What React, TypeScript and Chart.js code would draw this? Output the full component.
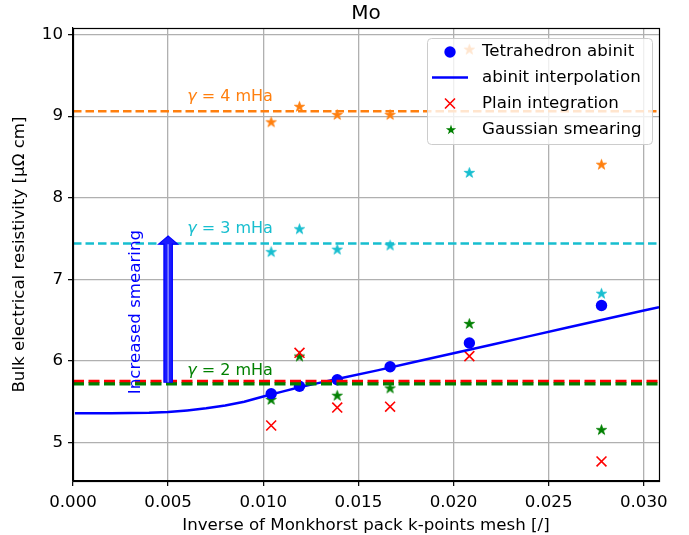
import React, { useEffect, useRef } from 'react';
import { Chart, registerables } from 'chart.js';
Chart.register(...registerables);

const FONT = 'DejaVu Sans';
const FS = 16.67;

// k-point meshes 96, 84, 72, 60, 48, 36 -> inverse
const KX = [1 / 96, 1 / 84, 1 / 72, 1 / 60, 1 / 48, 1 / 36];
const TETRA = [5.6, 5.69, 5.77, 5.93, 6.22, 6.68];
const PLAIN = [5.21, 6.1, 5.43, 5.44, 6.06, 4.77];
const GAUSS_2 = [5.53, 6.06, 5.58, 5.67, 6.46, 5.16];
const GAUSS_3 = [7.34, 7.62, 7.37, 7.42, 8.31, 6.83];
const GAUSS_4 = [8.93, 9.12, 9.02, 9.02, 9.82, 8.41];

const INTERP_X = [0.0001, 0.002, 0.004, 0.005, 0.006, 0.007, 0.008, 0.009, 0.01, 0.011, 0.012, 0.013, 0.014, 0.016, 0.018, 0.02, 0.022, 0.024, 0.026, 0.028, 0.03, 0.0308];
const INTERP_Y = [5.36, 5.36, 5.365, 5.375, 5.395, 5.42, 5.455, 5.5, 5.565, 5.625, 5.685, 5.735, 5.785, 5.885, 5.99, 6.095, 6.2, 6.305, 6.41, 6.515, 6.62, 6.66];

const REF_PLAIN = 5.75;
const REF_G2 = 5.72;
const REF_G3 = 7.44;
const REF_G4 = 9.06;

const X_MIN = 0;
const X_MAX = 0.0308;
const Y_MIN = 4.53;
const Y_MAX = 10.08;
const X_TICKS = [0, 0.005, 0.01, 0.015, 0.02, 0.025, 0.03];
const Y_TICKS = [5, 6, 7, 8, 9, 10];

const GAMMA_LABELS = ['4', '3', '2'];
const GAMMA_LABEL_Y = [9.24, 7.62, 5.88];
const GAMMA_LABEL_X = 0.006;
const ARROW_X = 0.005;
const ARROW_FROM = 5.74;
const ARROW_TO = 7.53;
const ARROW_TEXT = 'Increased smearing';
const ARROW_TEXT_X = 0.0033;
const ARROW_TEXT_Y = 6.6;

const BLUE = '#0000ff';
const RED = '#ff0000';
const GREEN = '#008000';
const ORANGE = '#ff7f0e';
const CYAN = '#17becf';

function starPath(g: CanvasRenderingContext2D, cx: number, cy: number, R: number) {
  g.beginPath();
  for (let i = 0; i < 10; i++) {
    const r = i % 2 === 0 ? R : R * 0.382;
    const a = -Math.PI / 2 + (i * Math.PI) / 5;
    g.lineTo(cx + r * Math.cos(a), cy + r * Math.sin(a));
  }
  g.closePath();
}

function makeStar(color: string, R: number) {
  const size = Math.ceil(R * 2 + 4);
  const c = document.createElement('canvas');
  c.width = size;
  c.height = size;
  const g = c.getContext('2d')!;
  starPath(g, size / 2, size / 2 + 0.5, R);
  g.fillStyle = color;
  g.fill();
  g.strokeStyle = color;
  g.lineWidth = 0.8;
  g.stroke();
  return c;
}

const pts = (xs: number[], ys: number[]) => xs.map((x, i) => ({ x, y: ys[i] }));
const hline = (v: number) => [{ x: X_MIN, y: v }, { x: X_MAX, y: v }];

export default function App() {
  const ref = useRef<HTMLCanvasElement>(null);
  useEffect(() => {
    const canvas = ref.current!;
    const starG = makeStar(GREEN, 5.4);
    const starC = makeStar(CYAN, 5.4);
    const starO = makeStar(ORANGE, 5.4);

    const overlay = {
      id: 'overlay',
      afterDatasetsDraw(chart: any) {
        const { ctx, chartArea: ca } = chart;
        const xs = chart.scales.x;
        const ys = chart.scales.y;
        ctx.save();
        // gamma labels
        const colors = [ORANGE, CYAN, GREEN];
        GAMMA_LABELS.forEach((g, i) => {
          const px = xs.getPixelForValue(GAMMA_LABEL_X);
          const py = ys.getPixelForValue(GAMMA_LABEL_Y[i]);
          ctx.fillStyle = colors[i];
          ctx.textBaseline = 'middle';
          ctx.textAlign = 'left';
          ctx.font = `italic 16px ${FONT}`;
          ctx.fillText('γ', px, py);
          const w = ctx.measureText('γ').width;
          ctx.font = `16px ${FONT}`;
          ctx.fillText(` = ${g} mHa`, px + w, py);
        });
        // arrow
        const ax = xs.getPixelForValue(ARROW_X);
        const ay0 = ys.getPixelForValue(ARROW_FROM);
        const ay1 = ys.getPixelForValue(ARROW_TO);
        const headL = 8;
        const headW = 9.5;
        const shaftW = 4.2;
        ctx.beginPath();
        ctx.moveTo(ax - shaftW, ay0);
        ctx.lineTo(ax - shaftW, ay1 + headL);
        ctx.lineTo(ax - headW, ay1 + headL);
        ctx.lineTo(ax, ay1);
        ctx.lineTo(ax + headW, ay1 + headL);
        ctx.lineTo(ax + shaftW, ay1 + headL);
        ctx.lineTo(ax + shaftW, ay0);
        ctx.closePath();
        ctx.fillStyle = '#1a1aff';
        ctx.fill();
        ctx.strokeStyle = BLUE;
        ctx.lineWidth = 1.2;
        ctx.stroke();
        ctx.beginPath();
        ctx.moveTo(ax, ay0);
        ctx.lineTo(ax, ay1 + headL);
        ctx.strokeStyle = 'rgba(170,170,255,0.9)';
        ctx.lineWidth = 1.3;
        ctx.stroke();
        // rotated text
        ctx.save();
        ctx.translate(xs.getPixelForValue(ARROW_TEXT_X), ys.getPixelForValue(ARROW_TEXT_Y));
        ctx.rotate(-Math.PI / 2);
        ctx.font = `${FS}px ${FONT}`;
        ctx.fillStyle = BLUE;
        ctx.textAlign = 'center';
        ctx.textBaseline = 'middle';
        ctx.fillText(ARROW_TEXT, 0, 0);
        ctx.restore();
        // frame
        ctx.strokeStyle = '#000';
        ctx.lineWidth = 1.2;
        ctx.strokeRect(Math.round(ca.left) + 0.5, Math.round(ca.top) + 0.5, Math.round(ca.right - ca.left), Math.round(ca.bottom - ca.top));
        // legend
        const lx = 427, ly = 38, lw = 225, lh = 106;
        ctx.beginPath();
        ctx.roundRect(lx + 0.5, ly + 0.5, lw, lh, 4);
        ctx.fillStyle = 'rgba(255,255,255,0.8)';
        ctx.fill();
        ctx.strokeStyle = '#cccccc';
        ctx.lineWidth = 1;
        ctx.stroke();
        const rows = [52, 77.5, 103.5, 129.5];
        const labels = ['Tetrahedron abinit', 'abinit interpolation', 'Plain integration', 'Gaussian smearing'];
        const mx = 450;
        ctx.beginPath();
        ctx.arc(mx, rows[0], 5.7, 0, Math.PI * 2);
        ctx.fillStyle = BLUE;
        ctx.fill();
        ctx.beginPath();
        ctx.moveTo(432, rows[1]);
        ctx.lineTo(468, rows[1]);
        ctx.strokeStyle = BLUE;
        ctx.lineWidth = 2.5;
        ctx.stroke();
        ctx.beginPath();
        ctx.moveTo(mx - 5, rows[2] - 5);
        ctx.lineTo(mx + 5, rows[2] + 5);
        ctx.moveTo(mx + 5, rows[2] - 5);
        ctx.lineTo(mx - 5, rows[2] + 5);
        ctx.strokeStyle = RED;
        ctx.lineWidth = 1.6;
        ctx.stroke();
        starPath(ctx, mx + 1, rows[3] + 0.5, 5.4);
        ctx.fillStyle = GREEN;
        ctx.fill();
        ctx.font = `${FS}px ${FONT}`;
        ctx.fillStyle = '#000';
        ctx.textAlign = 'left';
        ctx.textBaseline = 'middle';
        labels.forEach((t, i) => ctx.fillText(t, 482, rows[i]));
        // title
        ctx.font = `20px ${FONT}`;
        ctx.textAlign = 'center';
        ctx.fillText('Mo', (ca.left + ca.right) / 2, 14);
        ctx.restore();
      },
    };

    const chart = new Chart(canvas, {
      type: 'scatter',
      data: {
        datasets: [
          { data: hline(REF_G4), showLine: true, borderColor: ORANGE, borderWidth: 2.3, borderDash: [8.5, 4], pointRadius: 0 },
          { data: hline(REF_G3), showLine: true, borderColor: CYAN, borderWidth: 2.3, borderDash: [8.5, 4], pointRadius: 0 },
          { data: hline(REF_G2), showLine: true, borderColor: GREEN, borderWidth: 3.2, borderDash: [11, 4.5], pointRadius: 0 },
          { data: hline(REF_PLAIN), showLine: true, borderColor: RED, borderWidth: 3.2, borderDash: [11, 4.5], pointRadius: 0 },
          { data: pts(INTERP_X, INTERP_Y), showLine: true, borderColor: BLUE, borderWidth: 2.5, pointRadius: 0, tension: 0 },
          { data: pts(KX, TETRA), pointStyle: 'circle', pointRadius: 5.7, backgroundColor: BLUE, borderColor: BLUE, borderWidth: 0 },
          { data: pts(KX, PLAIN), pointStyle: 'crossRot', pointRadius: 7, borderColor: RED, borderWidth: 1.6 },
          { data: pts(KX, GAUSS_2), pointStyle: starG as any, pointRadius: 5 },
          { data: pts(KX, GAUSS_3), pointStyle: starC as any, pointRadius: 5 },
          { data: pts(KX, GAUSS_4), pointStyle: starO as any, pointRadius: 5 },
        ] as any,
      },
      options: {
        responsive: false,
        animation: false,
        events: [],
        layout: { padding: { left: 0, right: 30, top: 28, bottom: 0 } },
        plugins: { legend: { display: false }, tooltip: { enabled: false }, title: { display: false } },
        scales: {
          x: {
            type: 'linear',
            min: X_MIN,
            max: X_MAX,
            afterBuildTicks: (s: any) => { s.ticks = X_TICKS.map((v) => ({ value: v })); },
            afterFit: (s: any) => { s.height = 54; },
            ticks: { callback: (v: any) => Number(v).toFixed(3), color: '#000', font: { family: FONT, size: FS }, padding: 7, maxRotation: 0, autoSkip: false },
            grid: { color: '#b0b0b0', lineWidth: 1.3, tickLength: 5, tickColor: '#000', tickWidth: 1.2, drawTicks: true },
            border: { display: true, color: '#000', width: 1.2 },
            title: { display: true, text: 'Inverse of Monkhorst pack k-points mesh [/]', color: '#000', font: { family: FONT, size: FS, lineHeight: 1.0 }, padding: { top: 0, bottom: 1 } },
          },
          y: {
            type: 'linear',
            min: Y_MIN,
            max: Y_MAX,
            afterBuildTicks: (s: any) => { s.ticks = Y_TICKS.map((v) => ({ value: v })); },
            afterFit: (s: any) => { s.width = 73; },
            ticks: { callback: (v: any) => String(v), color: '#000', font: { family: FONT, size: FS }, padding: 5, autoSkip: false },
            grid: { color: '#b0b0b0', lineWidth: 1.3, tickLength: 5, tickColor: '#000', tickWidth: 1.2, drawTicks: true },
            border: { display: true, color: '#000', width: 1.2 },
            title: { display: true, text: 'Bulk electrical resistivity [μΩ cm]', color: '#000', font: { family: FONT, size: FS }, padding: { top: 10, bottom: 0 } },
          },
        },
      },
      plugins: [overlay],
    } as any);
    return () => chart.destroy();
  }, []);
  return (
    <div style={{ position: 'fixed', left: 0, top: 0, width: 689, height: 535, background: '#fff' }}>
      <canvas ref={ref} width={689} height={535} />
    </div>
  );
}
